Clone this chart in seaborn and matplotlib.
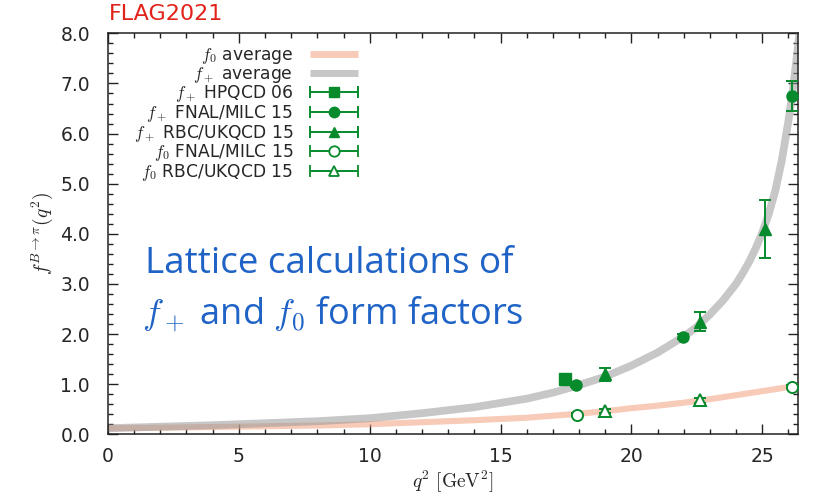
import numpy as np
import pandas as pd
import matplotlib
matplotlib.use("Agg")
import matplotlib.pyplot as plt
from matplotlib.ticker import MultipleLocator, FormatStrFormatter
from matplotlib.legend_handler import HandlerErrorbar
from matplotlib.lines import Line2D
import seaborn as sns

# ---- data ----
q2_band = [0, 2, 4, 6, 8, 10, 12, 14, 16, 17, 18, 19, 20, 21, 22, 22.5, 23, 23.5, 24, 24.25,
           24.5, 24.75, 25, 25.25, 25.5, 25.75, 26.0, 26.15, 26.3, 26.45]
fplus_avg = [0.12, 0.15, 0.18, 0.22, 0.26, 0.32, 0.42, 0.54, 0.71, 0.83, 0.98, 1.15, 1.37, 1.63, 1.95, 2.14,
             2.39, 2.67, 3.0, 3.21, 3.44, 3.71, 4.02, 4.40, 4.86, 5.47, 6.25, 6.80, 7.43, 8.12]
fzero_avg = [0.12, 0.13, 0.145, 0.16, 0.175, 0.20, 0.24, 0.28, 0.33, 0.37, 0.41, 0.46, 0.52, 0.57, 0.63, 0.665,
             0.70, 0.74, 0.78, 0.80, 0.82, 0.84, 0.86, 0.88, 0.90, 0.92, 0.945, 0.96, 0.975, 0.99]

hpqcd_q2 = [17.48]
hpqcd_fp = [1.10]
hpqcd_err = [0.05]

fnal_q2 = [17.88, 21.99, 26.12]
fnal_fp = [0.99, 1.95, 6.75]
fnal_fp_err = [0.04, 0.05, 0.29]

rbc_q2 = [19.0, 22.62, 25.11]
rbc_fp = [1.20, 2.25, 4.09]
rbc_fp_err = [0.13, 0.19, 0.58]

fnal_f0_q2 = [17.91, 26.12]
fnal_f0 = [0.39, 0.95]
fnal_f0_err = [0.03, 0.03]

rbc_f0_q2 = [19.0, 22.61]
rbc_f0 = [0.47, 0.68]
rbc_f0_err = [0.04, 0.05]

legend_labels = [r"$f_0$ average", r"$f_+$ average", r"$f_+$ HPQCD 06",
                 r"$f_+$ FNAL/MILC 15", r"$f_+$ RBC/UKQCD 15",
                 r"$f_0$ FNAL/MILC 15", r"$f_0$ RBC/UKQCD 15"]

# ---- style ----
sns.set_theme(style="ticks")
plt.rcParams["font.family"] = ["DejaVu Sans"]
plt.rcParams["mathtext.fontset"] = "cm"

GREEN = "#078a2c"
GRAY = "#9a9a9a"
PINK = "#f4a07e"

fig = plt.figure(figsize=(8.18, 4.98), dpi=100)
ax = fig.add_axes([0.132, 0.128, 0.843, 0.805])

band_df = pd.DataFrame({"q2": q2_band, "fp": fplus_avg, "f0": fzero_avg})
sns.lineplot(data=band_df, x="q2", y="f0", ax=ax, color=PINK, alpha=0.55,
             linewidth=4.4, solid_capstyle="butt", legend=False, zorder=2)
sns.lineplot(data=band_df, x="q2", y="fp", ax=ax, color=GRAY, alpha=0.55,
             linewidth=5.6, solid_capstyle="butt", legend=False, zorder=2)

common = dict(color=GREEN, ecolor=GREEN, elinewidth=1.4, capsize=4.6,
              capthick=1.4, markersize=8, linestyle="none", zorder=4)
ax.errorbar(hpqcd_q2, hpqcd_fp, yerr=hpqcd_err, fmt="s", **common)
ax.errorbar(fnal_q2, fnal_fp, yerr=fnal_fp_err, fmt="o", **common)
ax.errorbar(rbc_q2, rbc_fp, yerr=rbc_fp_err, fmt="^", **common)
ax.errorbar(fnal_f0_q2, fnal_f0, yerr=fnal_f0_err, fmt="o",
            markerfacecolor="white", markeredgewidth=1.4, **common)
ax.errorbar(rbc_f0_q2, rbc_f0, yerr=rbc_f0_err, fmt="^",
            markerfacecolor="white", markeredgewidth=1.4, **common)

# legend proxies (horizontal error bars)
def proxy(marker, filled=True):
    kw = dict(common)
    kw["markersize"] = 7.5
    if not filled:
        kw["markerfacecolor"] = "white"
        kw["markeredgewidth"] = 1.3
    return ax.errorbar([np.nan], [np.nan], xerr=[[1.0], [1.0]], fmt=marker, **kw)

h_f0avg = Line2D([], [], color=PINK, alpha=0.55, linewidth=5.0, solid_capstyle="butt")
h_fpavg = Line2D([], [], color=GRAY, alpha=0.55, linewidth=5.0, solid_capstyle="butt")
handles = [h_f0avg, h_fpavg, proxy("s"), proxy("o"), proxy("^"),
           proxy("o", False), proxy("^", False)]

handlelen = 2.8
leg = ax.legend(handles, legend_labels, loc="upper right",
                bbox_to_anchor=(0.38, 0.998), frameon=False, markerfirst=False,
                handlelength=handlelen, handletextpad=1.0,
                labelspacing=-0.08, borderpad=0.2,
                prop={"size": 12.3},
                handler_map={type(handles[2]): HandlerErrorbar(xerr_size=handlelen / 2)})

# axes
ax.set_xlim(0, 26.35)
ax.set_ylim(0, 8.0)
ax.xaxis.set_major_locator(MultipleLocator(5))
ax.xaxis.set_minor_locator(MultipleLocator(1))
ax.yaxis.set_major_locator(MultipleLocator(1))
ax.yaxis.set_minor_locator(MultipleLocator(0.2))
ax.yaxis.set_major_formatter(FormatStrFormatter("%.1f"))
ax.tick_params(which="both", direction="in", top=True, right=True, color="#222222", width=1.0)
ax.tick_params(which="major", length=7, labelsize=13.5)
ax.tick_params(axis="x", which="major", pad=9)
ax.tick_params(axis="y", which="major", pad=13)
ax.tick_params(which="minor", length=3.8)
for s in ax.spines.values():
    s.set_linewidth(1.1)
    s.set_color("#222222")

ax.set_xlabel(r"$q^2\ [\mathrm{GeV}^2]$", fontsize=14, labelpad=2)
ax.set_ylabel(r"$f^{B\to\pi}(q^2)$", fontsize=14, labelpad=4)

fig.text(0.133, 0.952, "FLAG2021", color="#e2231a", fontsize=16, ha="left", va="bottom")

BLUE = "#1f63c6"
ax.text(1.4, 3.4, "Lattice calculations of", color=BLUE, fontsize=26.5,
        family="Open Sans", ha="left", va="center")
ax.text(1.3, 2.4, r"$f_+$ and $f_0$ form factors", color=BLUE, fontsize=26.0,
        family="Open Sans", ha="left", va="center")

fig.savefig("out.png", dpi=100)
